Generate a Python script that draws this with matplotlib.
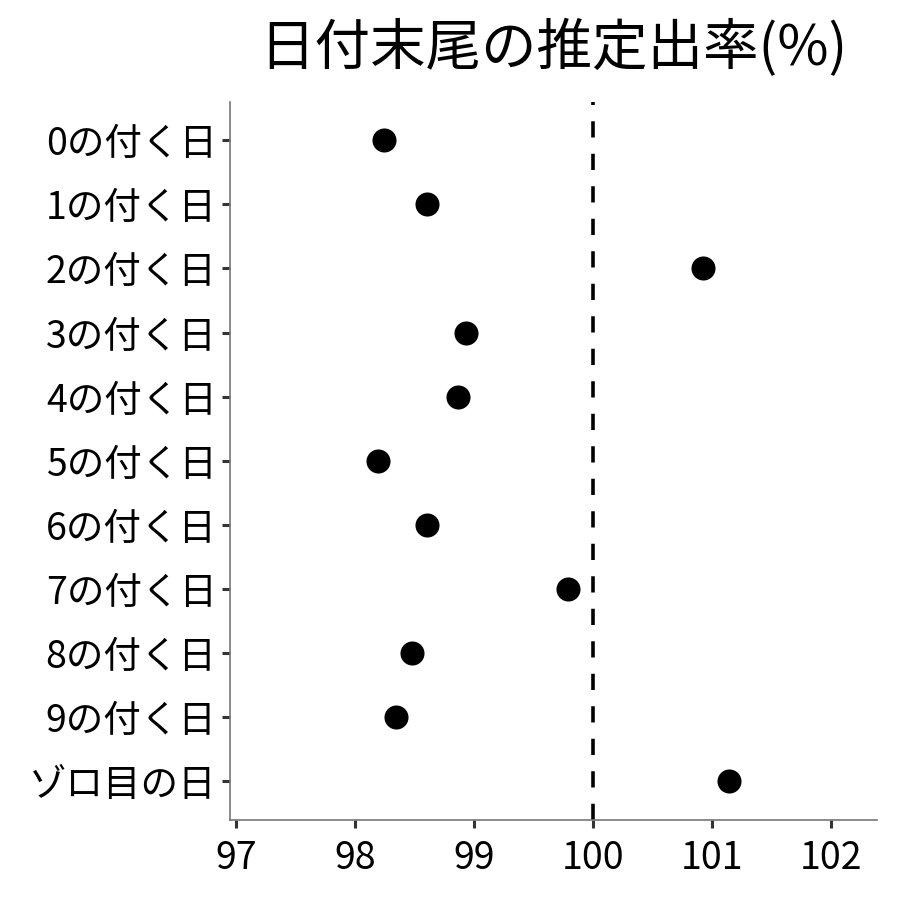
import matplotlib
matplotlib.use("Agg")
import matplotlib.pyplot as plt

plt.rcParams['font.family'] = ['Noto Sans CJK JP', 'DejaVu Sans']

labels = ['0の付く日', '1の付く日', '2の付く日', '3の付く日', '4の付く日',
          '5の付く日', '6の付く日', '7の付く日', '8の付く日', '9の付く日', 'ゾロ目の日']
rates = [98.24, 98.60, 100.92, 98.93, 98.86, 98.19, 98.60, 99.79, 98.48, 98.34, 101.14]

fig = plt.figure(figsize=(9, 9), dpi=100)
ax = fig.add_axes([0.256, 0.089, 0.718, 0.798])

ypos = list(range(len(labels)))[::-1]
ax.scatter(rates, ypos, s=300, color='black', zorder=3, linewidths=0)
ax.axvline(100, color='black', linestyle=(0, (4.5, 4.5)), linewidth=2.6, zorder=2)

ax.set_yticks(ypos)
ax.set_yticklabels(labels)
ax.set_ylim(-0.6, len(labels) - 0.4)
ax.set_xlim(96.95, 102.38)
ax.set_xticks([97, 98, 99, 100, 101, 102])

for s in ['top', 'right']:
    ax.spines[s].set_visible(False)
for s in ['left', 'bottom']:
    ax.spines[s].set_color('#777777')
    ax.spines[s].set_linewidth(1.2)
ax.tick_params(axis='both', colors='#333333', length=6, width=2.2, labelsize=27, labelcolor='black', pad=4)
ax.tick_params(axis='x', pad=8)

ax.set_title('日付末尾の推定出率(%)', fontsize=40, pad=26)

fig.savefig('out.png', dpi=100, facecolor='white')
